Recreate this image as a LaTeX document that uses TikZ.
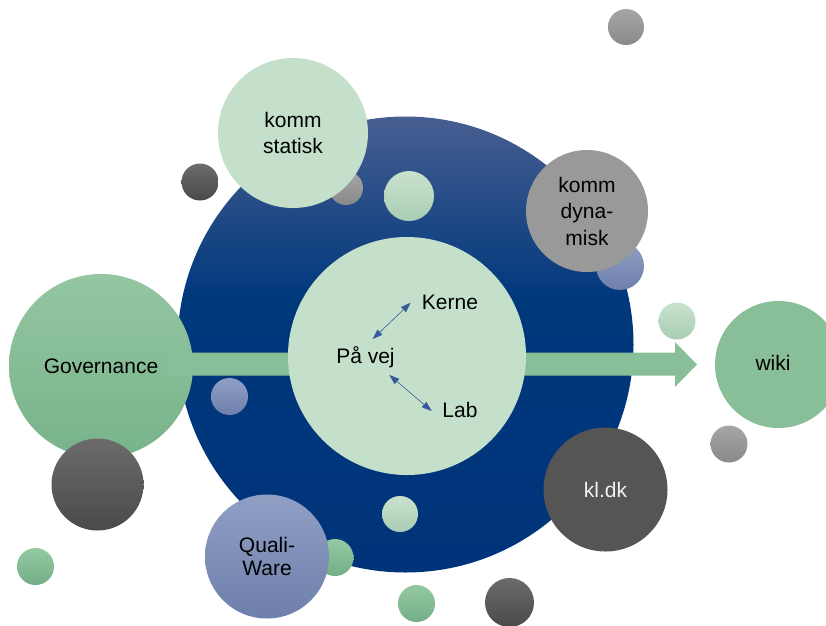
\documentclass[tikz,border=0pt]{standalone}
\usepackage{fontspec}
\setmainfont{Liberation Sans}
\usetikzlibrary{arrows.meta}
\definecolor{lgreen}{HTML}{C4E0CA}
\definecolor{lgreenT}{HTML}{C8E2CE}
\definecolor{lgreenB}{HTML}{A9CDB3}
\definecolor{mgreen}{HTML}{88BF98}
\definecolor{mgreenT}{HTML}{94C9A2}
\definecolor{mgreenB}{HTML}{74AE86}
\definecolor{govT}{HTML}{93C6A1}
\definecolor{govB}{HTML}{78B38A}
\definecolor{gray1}{HTML}{999999}
\definecolor{grayT}{HTML}{A6A6A6}
\definecolor{grayB}{HTML}{898989}
\definecolor{dgray}{HTML}{555555}
\definecolor{dgrayT}{HTML}{6B6B6B}
\definecolor{dgrayB}{HTML}{4A4A4A}
\definecolor{bgrayT}{HTML}{909FC4}
\definecolor{bgrayB}{HTML}{6E7FAB}
\definecolor{blueT}{HTML}{475E91}
\definecolor{blueM}{HTML}{00387C}
\definecolor{blueB}{HTML}{00347A}
\definecolor{arrowblue}{HTML}{3A5B9B}
\definecolor{txtwhite}{HTML}{F2F2F2}
\pgfdeclareverticalshading{bigblue}{100bp}{color(0bp)=(blueB); color(25bp)=(blueB); color(55bp)=(blueM); color(75bp)=(blueT); color(100bp)=(blueT)}
\newcommand{\lblfont}{\fontsize{21}{25}\selectfont}
\begin{document}
\begin{tikzpicture}[x=1pt,y=-1pt,
  ball/.style={circle,inner sep=0pt,draw=none,align=center,font=\lblfont,minimum size=#1},
  ball/.default=37pt,
  lgball/.style={top color=lgreenT,bottom color=lgreenB},
  mgball/.style={top color=mgreenT,bottom color=mgreenB},
  grball/.style={top color=grayT,bottom color=grayB},
  dgball/.style={top color=dgrayT,bottom color=dgrayB},
  bgball/.style={top color=bgrayT,bottom color=bgrayB},
  lbl/.style={inner sep=0pt,font=\lblfont},
  thinarrow/.style={{Triangle[length=10pt,width=7pt]}-{Triangle[length=10pt,width=7pt]},draw=arrowblue,line width=0.6pt}
]
\fill[white] (0,0) rectangle (826,625);
\clip (0,0) rectangle (826,625);
% big blue circle
\shade[shading=bigblue] (405.5,344.5) circle[radius=228pt];
% small circles lying on the blue circle
\node[ball=34pt,grball] (g1) at (346,188) {};
\node[ball=50pt,lgball] (lg1) at (409,196) {};
\node[ball=48pt,bgball] (bg1) at (620,266) {};
\node[ball,bgball] (bg2) at (229.5,396.5) {};
\node[ball=36pt,lgball] (lg2) at (400,514) {};
\node[ball,mgball] (mg1) at (335,557.5) {};
% Governance
\node[ball=184pt,top color=govT,bottom color=govB] (gov) at (101,366) {Governance};
\node[ball=92pt,dgball] (dg1) at (97.5,484.5) {};
% green arrow
\fill[mgreen] (167,352.5) -- (675,352.5) -- (675,342) -- (697,364.5) -- (675,387) -- (675,375.5) -- (167,375.5) -- cycle;
% centre circle
\node[ball=238pt,fill=lgreen] (centre) at (407,356) {};
\node[lbl] (kerne) at (450,302) {Kerne};
\node[lbl] (pavej) at (365.5,357) {På vej};
\node[lbl] (lab) at (460,410) {Lab};
\coordinate (a1) at (372.7,339);
\coordinate (a2) at (410.7,302.7);
\coordinate (b1) at (389.3,375);
\coordinate (b2) at (431.7,411);
\draw[thinarrow] (a1) -- (a2);
\draw[thinarrow] (b1) -- (b2);
% labelled circles
\node[ball=150pt,fill=lgreen,font=\fontsize{21}{25.5}\selectfont] (statisk) at (293,133) {komm\\statisk};
\node[ball=122pt,fill=gray1,font=\fontsize{21}{26.5}\selectfont] (dynamisk) at (587,211) {komm\\dyna-\\misk};
\node[ball=124pt,fill=dgray,text=txtwhite] (kldk) at (605.5,489.5) {kl.dk};
\node[ball=124pt,bgball,font=\fontsize{21}{22.5}\selectfont] (quali) at (267,556.5) {Quali-\\Ware};
\node[ball=127pt,fill=mgreen] (wiki) at (778.5,364.5) {};
\node[lbl] (wikitxt) at (773,363) {wiki};
% loose small circles
\node[ball,dgball] (dg2) at (200,182) {};
\node[ball=36pt,grball] (g2) at (626,27) {};
\node[ball,lgball] (lg3) at (677,321) {};
\node[ball,grball] (g3) at (729,444) {};
\node[ball=49pt,dgball] (dg3) at (509.5,602.5) {};
\node[ball,mgball] (mg2) at (416.5,603.5) {};
\node[ball,mgball] (mg3) at (35.5,566.5) {};
\end{tikzpicture}
\end{document}
